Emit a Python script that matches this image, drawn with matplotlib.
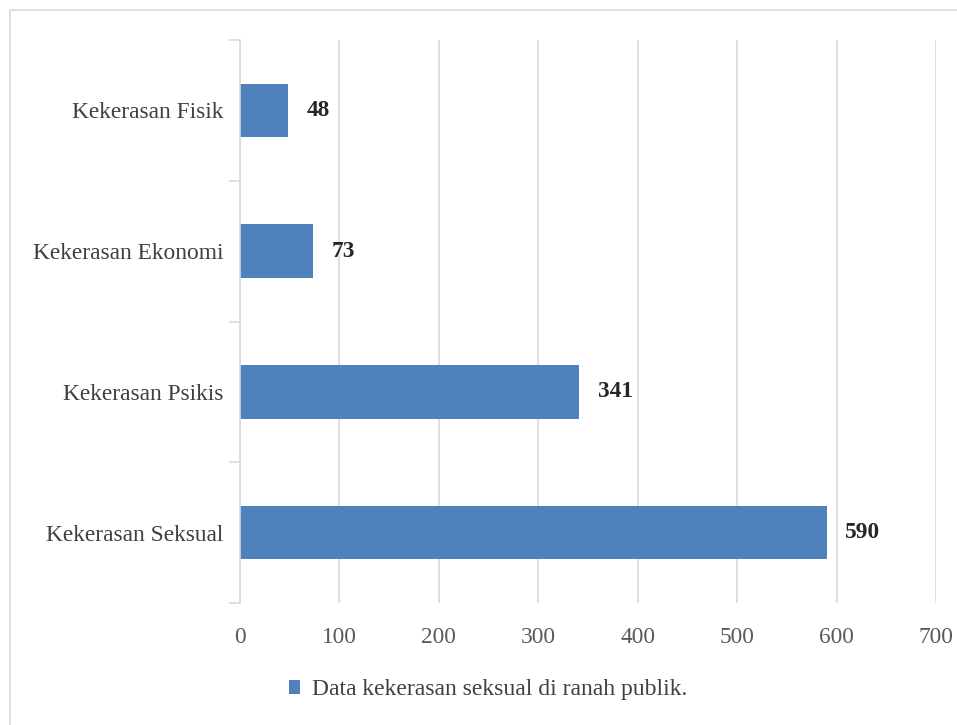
import matplotlib
matplotlib.use("Agg")
import matplotlib.pyplot as plt
from matplotlib.patches import Rectangle

categories = ["Kekerasan Seksual", "Kekerasan Psikis", "Kekerasan Ekonomi", "Kekerasan Fisik"]
values = [590, 341, 73, 48]
series_name = "Data kekerasan seksual di ranah publik."
xticks = [0, 100, 200, 300, 400, 500, 600, 700]

plt.rcParams['font.family'] = ['Liberation Serif', 'DejaVu Serif']

fig = plt.figure(figsize=(9.57, 7.25), dpi=100)
ax = fig.add_axes([0.2508, 0.1683, 0.978 - 0.2508, 0.9448 - 0.1683])

bar_color = "#4f81bd"
grid_color = "#d9d9d9"
fs = 16.8
ypos = list(range(len(categories)))
bars = ax.barh(ypos, values, height=0.38, color=bar_color, label=series_name, zorder=3)

ax.set_xlim(0, 700)
ax.set_ylim(-0.5, len(categories) - 0.5)
ax.set_xticks(xticks)
ax.set_xticklabels([str(t) for t in xticks], fontsize=fs, color="#595959")
ax.set_yticks(ypos)
ax.set_yticklabels(categories, fontsize=fs, color="#404040")
ax.tick_params(axis='y', length=0, pad=12)
ax.tick_params(axis='x', length=0, pad=17)
ax.set_yticks([i - 0.5 for i in range(len(categories) + 1)], minor=True)
ax.tick_params(axis='y', which='minor', length=8, color=grid_color, width=1.2)
ax.xaxis.grid(True, color=grid_color, linewidth=1.2, zorder=0)
for s in ['top', 'right', 'bottom']:
    ax.spines[s].set_visible(False)
ax.spines['left'].set_color(grid_color)
ax.spines['left'].set_linewidth(1.2)
ax.spines['left'].set_zorder(4)

for b, v in zip(bars, values):
    ax.annotate(str(v), (b.get_width(), b.get_y() + b.get_height() / 2),
                xytext=(13.5, 0), textcoords='offset points', ha='left', va='center',
                fontsize=fs, fontweight='bold', color="#262626")

leg = fig.legend(handles=[bars], labels=[series_name], loc='center', bbox_to_anchor=(0.51, 1 - 690 / 725),
                 frameon=False, fontsize=17, handlelength=0.5, handleheight=0.5, handletextpad=0.5)
for t in leg.get_texts():
    t.set_color("#404040")

fig.patches.append(Rectangle((10 / 957, -0.1), 1.2, 1.1 - 10 / 725, transform=fig.transFigure,
                             fill=False, edgecolor="#d9d9d9", linewidth=1.2))

fig.savefig("out.png", dpi=100)
